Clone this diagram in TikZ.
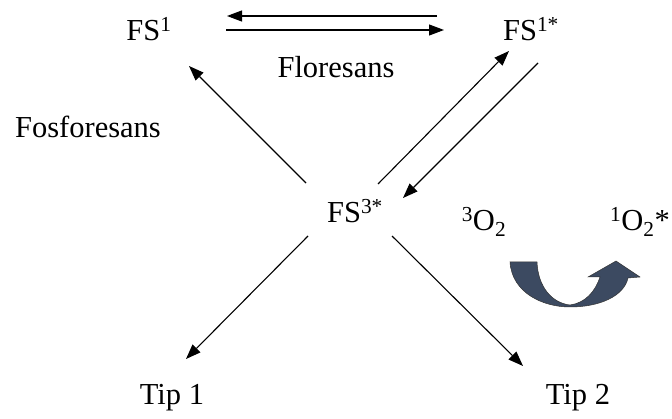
\documentclass[tikz,border=0pt]{standalone}
\usepackage{fontspec}
\setmainfont{Liberation Serif}
\usetikzlibrary{arrows.meta}
\definecolor{curvcol}{HTML}{3C4A61}
\tikzset{
  lbl/.style={inner sep=0pt, font=\fontsize{30.5}{36}\selectfont},
  arr/.style={draw=black, line width=1.1pt, -{Triangle[length=15pt,width=11pt]}}
}
\begin{document}
\begin{tikzpicture}[x=1pt,y=-1pt]
\useasboundingbox (0,0) rectangle (672,419);
% labels
\node[lbl] (fs1) at (149,29) {FS\textsuperscript{1}};
\node[lbl] (fs1s) at (531,29) {FS\textsuperscript{1*}};
\node[lbl] (flo) at (336,67) {Floresans};
\node[lbl] (fos) at (88,127) {Fosforesans};
\node[lbl] (fs3) at (355,211) {FS\textsuperscript{3*}};
\node[lbl] (o3) at (484,222) {\textsuperscript{3}O\textsubscript{2}};
\node[lbl, anchor=east] (o1) at (670,222) {\textsuperscript{1}O\textsubscript{2}*};
\node[lbl] (tip1) at (172,398) {Tip 1};
\node[lbl] (tip2) at (578,398) {Tip 2};
% connector endpoints
\coordinate (a1s) at (437,16);
\coordinate (a1e) at (227,16);
\coordinate (a2s) at (226,30);
\coordinate (a2e) at (444,30);
\coordinate (b1s) at (306,183);
\coordinate (b1e) at (189,66);
\coordinate (b2s) at (378,184);
\coordinate (b2e) at (509,51);
\coordinate (b3s) at (538,63);
\coordinate (b3e) at (403,198);
\coordinate (b4s) at (308,236);
\coordinate (b4e) at (186,359);
\coordinate (b5s) at (392,236);
\coordinate (b5e) at (523,366);
% arrows
\draw[arr] (a1s) -- (a1e);
\draw[arr] (a2s) -- (a2e);
\draw[arr] (b1s) -- (b1e);
\draw[arr] (b2s) -- (b2e);
\draw[arr] (b3s) -- (b3e);
\draw[arr] (b4s) -- (b4e);
\draw[arr] (b5s) -- (b5e);
% curved block arrow
\filldraw[fill=curvcol, draw=black!80, line width=0.5pt]
  (510,262) .. controls (512,293) and (543,307) .. (570,307)
  .. controls (600,307) and (624,296) .. (628,278)
  -- (640,277) -- (616,261) -- (588,277) -- (600,277)
  .. controls (595,292) and (585,303) .. (570,305)
  .. controls (552,303) and (538,287) .. (537,262) -- cycle;
\end{tikzpicture}
\end{document}
